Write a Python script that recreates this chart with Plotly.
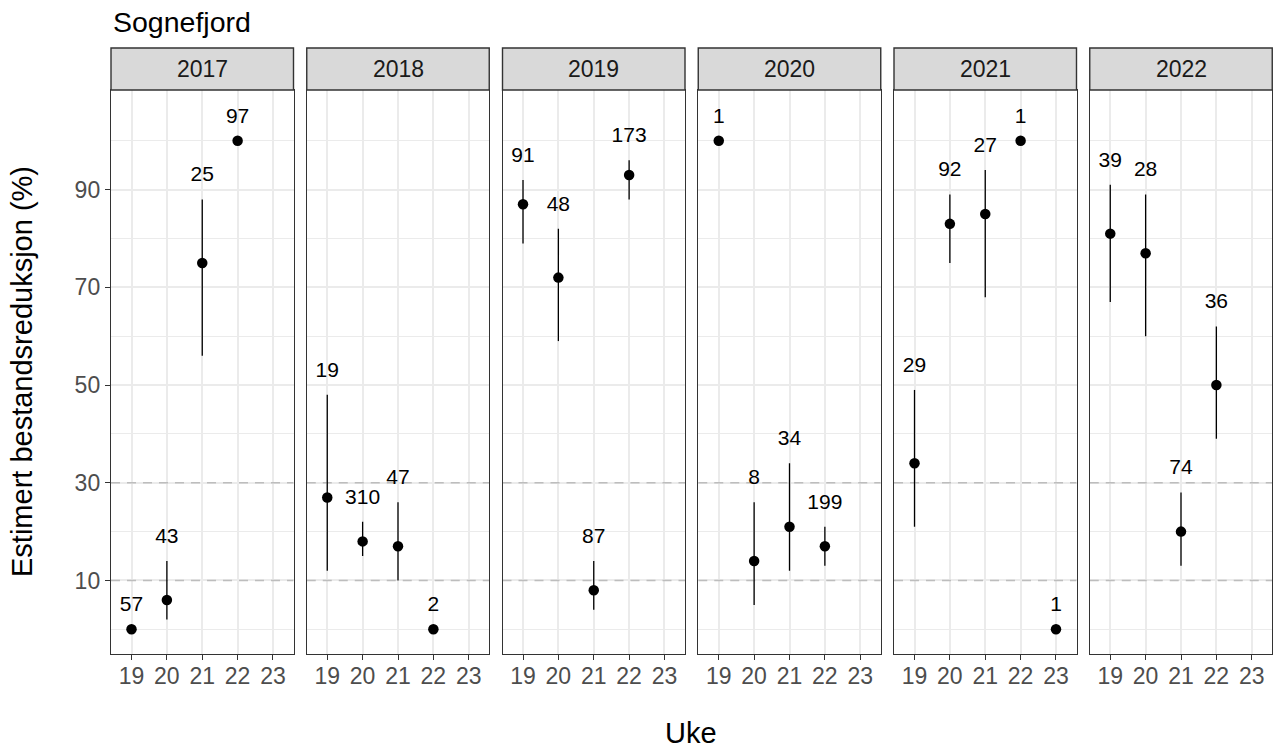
import plotly.graph_objects as go

# ---------------- data ----------------
years = [2017, 2018, 2019, 2020, 2021, 2022]
panel_year = [2017, 2017, 2017, 2017,
              2018, 2018, 2018, 2018,
              2019, 2019, 2019, 2019,
              2020, 2020, 2020, 2020,
              2021, 2021, 2021, 2021, 2021,
              2022, 2022, 2022, 2022]
week = [19, 20, 21, 22,
        19, 20, 21, 22,
        19, 20, 21, 22,
        19, 20, 21, 22,
        19, 20, 21, 22, 23,
        19, 20, 21, 22]
estimate = [0, 6, 75, 100,
            27, 18, 17, 0,
            87, 72, 8, 93,
            100, 14, 21, 17,
            34, 83, 85, 100, 0,
            81, 77, 20, 50]
lower = [0, 2, 56, 100,
         12, 15, 10, 0,
         79, 59, 4, 88,
         100, 5, 12, 13,
         21, 75, 68, 100, 0,
         67, 60, 13, 39]
upper = [0, 14, 88, 100,
         48, 22, 26, 0,
         92, 82, 14, 96,
         100, 26, 34, 21,
         49, 89, 94, 100, 0,
         91, 89, 28, 62]
n_fish = [57, 43, 25, 97,
          19, 310, 47, 2,
          91, 48, 87, 173,
          1, 8, 34, 199,
          29, 92, 27, 1, 1,
          39, 28, 74, 36]
x_ticks = [19, 20, 21, 22, 23]
y_ticks = [10, 30, 50, 70, 90]
y_minor = [0, 20, 40, 60, 80, 100]
ref_lines = [10, 30]

title_text = "Sognefjord"
x_title = "Uke"
y_title = "Estimert bestandsreduksjon (%)"

# ---------------- layout geometry ----------------
W, H = 1276, 751
FONT = "Liberation Sans, Arial, sans-serif"
panel_left0 = 111.0
panel_w = 182.5
panel_step = 195.75
top_px, bottom_px, strip_top = 90.0, 654.0, 48.0
label_offset = 4.8  # data units above upper bound

X_RANGE = [18.42, 23.58]
Y_RANGE = [-5.05, 110.4]
GRID = "#EBEBEB"
BORDER = "#333333"

fig = go.Figure()
shapes = []
annotations = []

y_dom = [1 - bottom_px / H, 1 - top_px / H]

for i, yr in enumerate(years):
    ax = "" if i == 0 else str(i + 1)
    idx = [k for k in range(len(week)) if panel_year[k] == yr]
    xs = [week[k] for k in idx]
    es = [estimate[k] for k in idx]
    los = [lower[k] for k in idx]
    his = [upper[k] for k in idx]
    ns = [str(n_fish[k]) for k in idx]

    # dashed reference lines (drawn above grid, below points)
    for r in ref_lines:
        fig.add_trace(go.Scatter(
            x=X_RANGE, y=[r, r], mode="lines",
            line=dict(color="#BDBDBD", width=1.5, dash="9px,7px"),
            xaxis="x" + ax, yaxis="y" + ax,
            showlegend=False, hoverinfo="skip"))

    fig.add_trace(go.Scatter(
        x=xs, y=es, mode="markers",
        marker=dict(size=10.5, color="black"),
        error_y=dict(type="data", symmetric=False,
                     array=[h - e for h, e in zip(his, es)],
                     arrayminus=[e - l for e, l in zip(es, los)],
                     thickness=1.3, width=0, color="black"),
        xaxis="x" + ax, yaxis="y" + ax,
        showlegend=False, hoverinfo="skip"))
    fig.add_trace(go.Scatter(
        x=xs, y=[h + label_offset for h in his], mode="text",
        text=ns, textposition="middle center",
        textfont=dict(size=21, color="black", family=FONT),
        cliponaxis=False,
        xaxis="x" + ax, yaxis="y" + ax,
        showlegend=False, hoverinfo="skip"))

    left = panel_left0 + i * panel_step
    right = left + panel_w
    xd = [left / W, right / W]

    fig.update_layout(**{
        "xaxis" + ax: dict(
            domain=xd, range=X_RANGE, anchor="y" + ax,
            tickmode="array", tickvals=x_ticks,
            ticks="outside", ticklen=5, tickwidth=1.3, tickcolor=BORDER,
            ticklabelstandoff=-4,
            tickfont=dict(size=23, color="#4D4D4D", family=FONT),
            showgrid=True, gridcolor=GRID, gridwidth=1.6,
            showline=True, linecolor=BORDER, linewidth=1.4, mirror=True,
            zeroline=False, fixedrange=True),
        "yaxis" + ax: dict(
            domain=y_dom, range=Y_RANGE, anchor="x" + ax,
            tickmode="array", tickvals=y_ticks,
            ticks="outside" if i == 0 else "", ticklen=5, tickwidth=1.3,
            tickcolor=BORDER, showticklabels=(i == 0),
            tickfont=dict(size=23, color="#4D4D4D", family=FONT),
            showgrid=True, gridcolor=GRID, gridwidth=1.6,
            minor=dict(tickvals=y_minor, showgrid=True, gridcolor=GRID,
                       gridwidth=1.4, ticks=""),
            showline=True, linecolor=BORDER, linewidth=1.4, mirror=True,
            zeroline=False, fixedrange=True),
    })

    # facet strip
    shapes.append(dict(type="rect", xref="paper", yref="paper",
                       x0=left / W, x1=right / W,
                       y0=1 - top_px / H, y1=1 - strip_top / H,
                       fillcolor="#D9D9D9", line=dict(color=BORDER, width=1.4)))
    annotations.append(dict(text=str(yr), xref="paper", yref="paper",
                            x=(left + right) / 2 / W, y=1 - (top_px + strip_top) / 2 / H,
                            xanchor="center", yanchor="middle", showarrow=False,
                            font=dict(size=23, color="#1A1A1A", family=FONT)))

annotations.append(dict(text=title_text, xref="paper", yref="paper",
                        x=111 / W, y=1 - 22 / H, xanchor="left", yanchor="middle",
                        showarrow=False, font=dict(size=28.5, color="black", family=FONT)))
annotations.append(dict(text=y_title, xref="paper", yref="paper",
                        x=22 / W, y=1 - 372 / H, xanchor="center", yanchor="middle",
                        textangle=-90, showarrow=False,
                        font=dict(size=29, color="black", family=FONT)))
annotations.append(dict(text=x_title, xref="paper", yref="paper",
                        x=691.5 / W, y=1 - 733 / H, xanchor="center", yanchor="middle",
                        showarrow=False, font=dict(size=29, color="black", family=FONT)))

fig.update_layout(
    width=W, height=H, autosize=False,
    margin=dict(l=0, r=0, t=0, b=0),
    paper_bgcolor="white", plot_bgcolor="white",
    shapes=shapes, annotations=annotations,
    font=dict(family=FONT),
    showlegend=False,
)

fig.write_html("out.html",
               config={"displayModeBar": False},
               post_script="document.body.style.margin='0';document.body.style.padding='0';document.body.style.overflow='hidden';")
